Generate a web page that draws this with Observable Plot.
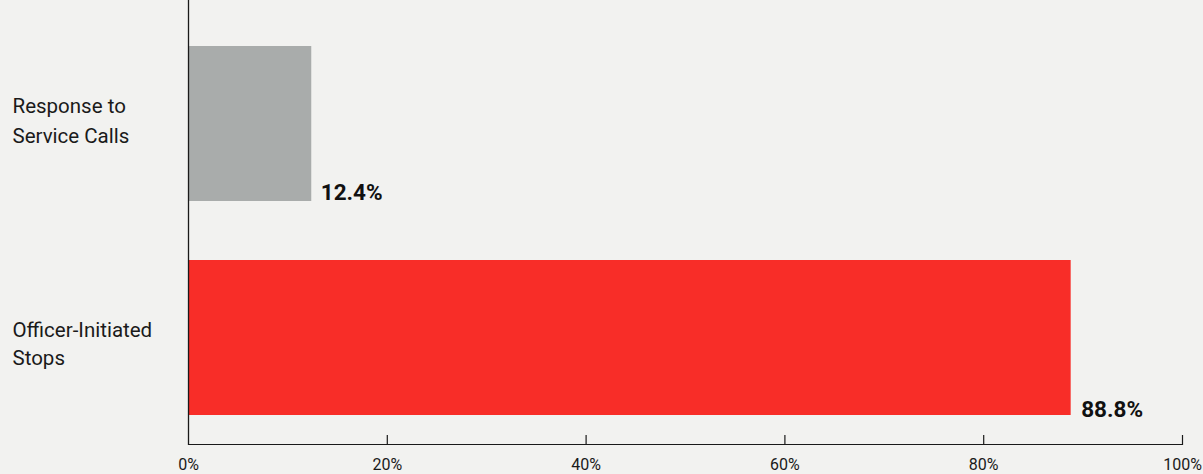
<!DOCTYPE html>
<html>
<head>
<meta charset="utf-8">
<script src="https://cdn.jsdelivr.net/npm/d3@7"></script>
<script src="https://cdn.jsdelivr.net/npm/@observablehq/plot@0.6"></script>
<style>
  html, body { margin: 0; padding: 0; background: #f2f2f0; }
  #chart { width: 1203px; height: 474px; overflow: hidden; }
</style>
</head>
<body>
<div id="chart"></div>
<script>
const categories = ["Response to Service Calls", "Officer-Initiated Stops"];
const labelLines = ["Response to\nService Calls", "Officer-Initiated\nStops"];
const values = [12.4, 88.8];
const valueLabels = ["12.4%", "88.8%"];
const barColors = ["#a9acab", "#f82d28"];
const xTicks = [0, 20, 40, 60, 80, 100];

const data = categories.map((c, i) => ({
  category: c, label: labelLines[i], value: values[i], text: valueLabels[i], color: barColors[i]
}));

const font = "Roboto, 'Liberation Sans', sans-serif";

const chart = Plot.plot({
  width: 1203,
  height: 474,
  marginLeft: 188,
  marginRight: 21,
  marginTop: 0,
  marginBottom: 29,
  style: { background: "#f2f2f0", fontFamily: font, color: "#1a1a1a" },
  x: { domain: [0, 100], label: null },
  y: { domain: categories, range: [46, 415], paddingInner: 0.276, paddingOuter: 0, axis: null },
  marks: [
    Plot.barX(data, { y: "category", x: "value", fill: "color" }),
    Plot.ruleX([0], { stroke: "#1a1a1a", strokeWidth: 1.3 }),
    Plot.rect([0], { x1: 0, x2: 100, insetTop: 444, fill: "#1a1a1a" }),
    Plot.ruleX(xTicks.slice(1), { x: d => d, insetTop: 435, stroke: "#1a1a1a", strokeWidth: 1.2 }),
    Plot.axisX(xTicks, { tickSize: 0, tickPadding: 13, fontSize: 16, tickFormat: d => d + "%", fill: "#1a1a1a" }),
    Plot.text(data.slice(0, 1), {
      y: "category", x: 0, text: "label", dx: -176, dy: -6, textAnchor: "start",
      fontSize: 20.5, lineHeight: 1.47, fill: "#1a1a1a"
    }),
    Plot.text(data.slice(1), {
      y: "category", x: 0, text: "label", dx: -176, dy: 4, textAnchor: "start",
      fontSize: 20.5, lineHeight: 1.37, fill: "#1a1a1a"
    }),
    Plot.text(data.slice(0, 1), {
      y: "category", x: "value", text: "text", textAnchor: "start", dx: 9, dy: 69,
      fontSize: 22.5, fontWeight: "bold", fill: "#111"
    }),
    Plot.text(data.slice(1), {
      y: "category", x: "value", text: "text", textAnchor: "start", dx: 10, dy: 72,
      fontSize: 22.5, fontWeight: "bold", fill: "#111"
    })
  ]
});
document.getElementById("chart").append(chart);
</script>
</body>
</html>
